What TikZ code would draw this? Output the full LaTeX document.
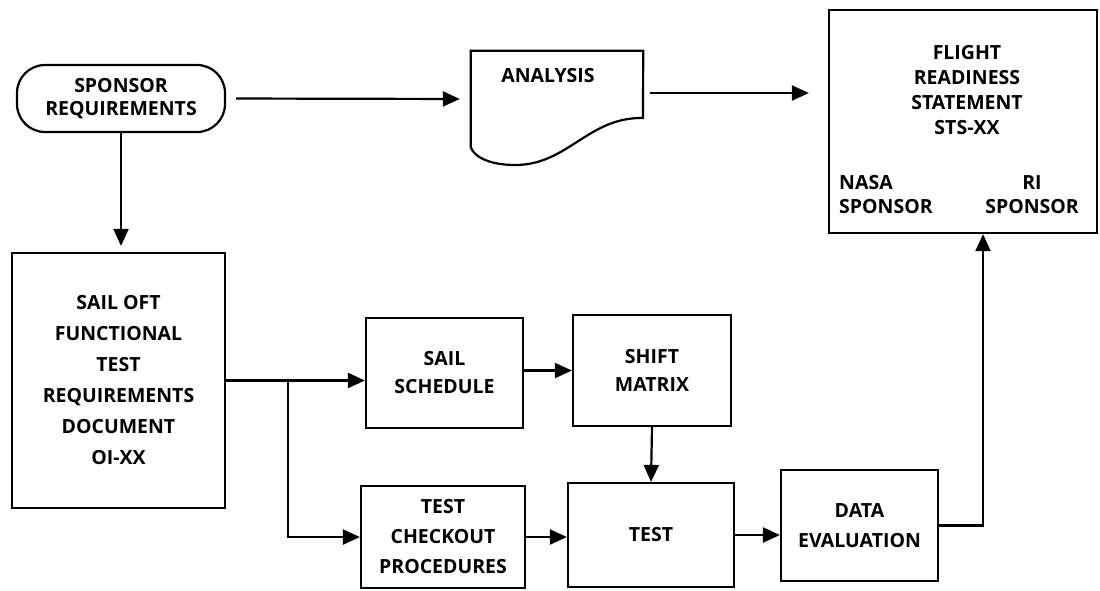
\documentclass[tikz,border=0pt]{standalone}
\usepackage{fontspec}
\setmainfont{Open Sans}
\usetikzlibrary{positioning, calc, arrows.meta}

\tikzset{
  block/.style={draw, line width=2.2pt, align=center, inner sep=0pt,
    font=\bfseries\fontsize{19.5}{30}\selectfont},
  txt/.style={align=center, inner sep=0pt, font=\bfseries\fontsize{19.5}{#1}\selectfont},
  flow/.style={line width=2.2pt, -{Triangle[length=17pt, width=15pt]}},
}

\begin{document}
\begin{tikzpicture}[x=1pt, y=-1pt]
\useasboundingbox (0,0) rectangle (1100,590);
% top row
\node[block, rounded corners=28pt, minimum width=208pt, minimum height=67pt,
  font=\bfseries\fontsize{19.5}{23}\selectfont] (sponsor) at (121,98.5) {SPONSOR\\REQUIREMENTS};
\node[minimum width=172pt, minimum height=96pt, inner sep=0pt] (analysis) at (557,99) {};
\node[txt=20] (analysis-txt) at (548,76) {ANALYSIS};
\draw[line width=2.2pt] (analysis.north west) -- (analysis.north east) -- (643,118)
  .. controls (588,117) and (568,165) .. (515,165)
  .. controls (490,165) and (474,157) .. (analysis.south west) -- cycle;
\node[block, minimum width=268pt, minimum height=223pt] (flight) at (963,121.5) {};
\node[txt=25] (flight-txt) at (967,90) {FLIGHT\\READINESS\\STATEMENT\\STS-XX};
\node[txt=24, anchor=west, align=left] (nasa) at (839,195) {NASA\\SPONSOR};
\node[txt=24] (ri) at (1032,195) {RI\\SPONSOR};
% lower part
\node[block, minimum width=213pt, minimum height=255pt,
  font=\bfseries\fontsize{19.5}{31}\selectfont] (sailoft) at (118.5,380.5)
  {SAIL OFT\\FUNCTIONAL\\TEST\\REQUIREMENTS\\DOCUMENT\\OI-XX};
\node[block, minimum width=157pt, minimum height=110pt,
  font=\bfseries\fontsize{19.5}{28}\selectfont] (sailsched) at (444.5,373) {SAIL\\SCHEDULE};
\node[block, minimum width=158pt, minimum height=111pt,
  font=\bfseries\fontsize{19.5}{28}\selectfont] (shift) at (652,370.5) {SHIFT\\MATRIX};
\node[block, minimum width=164pt, minimum height=102pt] (testproc) at (443,537) {TEST\\CHECKOUT\\PROCEDURES};
\node[block, minimum width=166pt, minimum height=104pt] (test) at (651,535) {TEST};
\node[block, minimum width=157pt, minimum height=111pt] (dataeval) at (859.5,525.5) {DATA\\EVALUATION};
% arrows
\draw[flow, shorten <=10pt, shorten >=11pt] (sponsor.east) -- (analysis.west);
\draw[flow, shorten <=7pt, shorten >=19pt] ([yshift=6pt]analysis.east) -- ([yshift=6pt]analysis.east -| flight.west);
\draw[flow, shorten >=6pt] (sponsor.south) -- (sponsor.south |- sailoft.north);
\draw[flow] (sailoft.east) -- (sailoft.east -| sailsched.west);
\draw[flow] (sailoft.east) ++(62,0) |- (testproc.west);
\draw[flow] (sailsched.east |- shift.west) -- (shift.west);
\draw[flow] (shift.south) -- (test.north);
\draw[flow] (testproc.east) -- (testproc.east -| test.west);
\draw[flow] (test.east) -- (test.east -| dataeval.west);
\draw[flow] (dataeval.east) -| ([xshift=20pt]flight.south);
\end{tikzpicture}
\end{document}
